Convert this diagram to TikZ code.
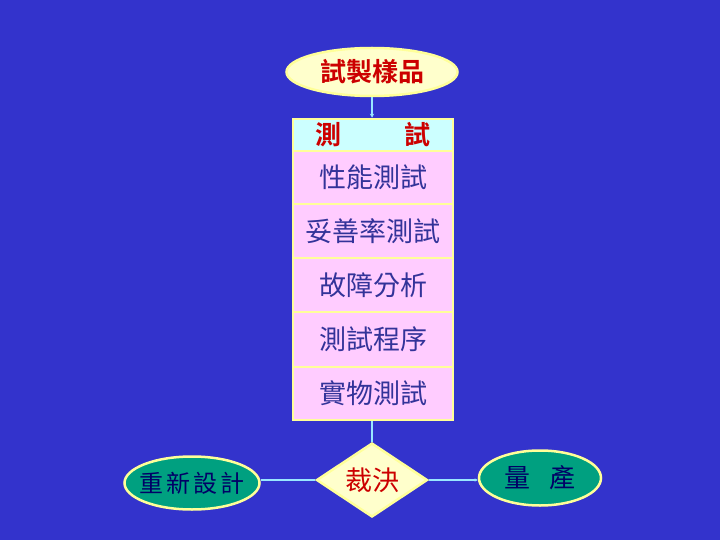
\documentclass[tikz,border=0pt]{standalone}
\usepackage{fontspec}
\newfontfamily\cjk{Noto Sans CJK TC}
\newfontfamily\cjkb{Noto Sans CJK TC Bold}
\usetikzlibrary{shapes.geometric,arrows.meta}
\definecolor{bg}{RGB}{51,51,204}
\definecolor{lyel}{RGB}{255,255,204}
\definecolor{edge}{RGB}{255,255,153}
\definecolor{pinkf}{RGB}{255,204,255}
\definecolor{cyanf}{RGB}{204,255,255}
\definecolor{conn}{RGB}{153,230,255}
\definecolor{redt}{RGB}{204,0,0}
\definecolor{bluet}{RGB}{51,51,153}
\definecolor{tealf}{RGB}{0,160,128}
\definecolor{navyt}{RGB}{0,0,102}
\tikzset{
  rowbox/.style={draw=edge,line width=2.5pt,fill=pinkf,minimum width=160pt,inner sep=0pt,font=\cjk\fontsize{27}{29}\selectfont,text=bluet},
  ell/.style={ellipse,draw=edge,line width=2.5pt,inner xsep=-10pt,inner ysep=-4pt},
  conline/.style={draw=conn,line width=1.5pt}
}
\begin{document}
\begin{tikzpicture}[x=1pt,y=-1pt]
\fill[bg] (0,0) rectangle (720,540);
\useasboundingbox (0,0) rectangle (720,540);
\node[ell,fill=lyel,minimum width=171pt,minimum height=48pt,font=\cjkb\fontsize{26}{28}\selectfont,text=redt] (top) at (372,72) {試製樣品};
\node[rowbox,fill=cyanf,minimum height=32pt,font=\cjkb\fontsize{26}{28}\selectfont,text=redt] (hdr) at (373,135) {測\hspace{2.4em}試};
\node[rowbox,minimum height=53pt] (r1) at (373,177.5) {性能測試};
\node[rowbox,minimum height=54pt] (r2) at (373,231) {妥善率測試};
\node[rowbox,minimum height=54pt] (r3) at (373,285) {故障分析};
\node[rowbox,minimum height=55pt] (r4) at (373,339.5) {測試程序};
\node[rowbox,minimum height=53pt] (r5) at (373,393.5) {實物測試};
\node[diamond,draw=edge,line width=2.5pt,fill=lyel,minimum width=111pt,minimum height=74pt,inner sep=-8pt,font=\cjk\fontsize{27}{29}\selectfont,text=redt] (dec) at (372,480) {裁決};
\node[ell,fill=tealf,minimum width=135pt,minimum height=53pt,font=\cjk\fontsize{24}{26}\selectfont,text=navyt] (left) at (192,483) {重\hspace{0.12em}新\hspace{0.12em}設\hspace{0.12em}計};
\node[ell,fill=tealf,minimum width=122pt,minimum height=55pt,font=\cjk\fontsize{26}{28}\selectfont,text=navyt] (right) at (540,478) {量\hspace{0.75em}產};
\draw[conline,-{Stealth[length=4pt,width=4pt]}] (top.south) -- (hdr.north -| top.south);
\draw[conline] (r5.south -| dec.north) -- (dec.north);
\draw[conline] (dec.west) -- (left.east |- dec.west);
\draw[conline,-{Stealth[length=3pt,width=3pt]}] (dec.east) -- (right.west |- dec.east);
\end{tikzpicture}
\end{document}
